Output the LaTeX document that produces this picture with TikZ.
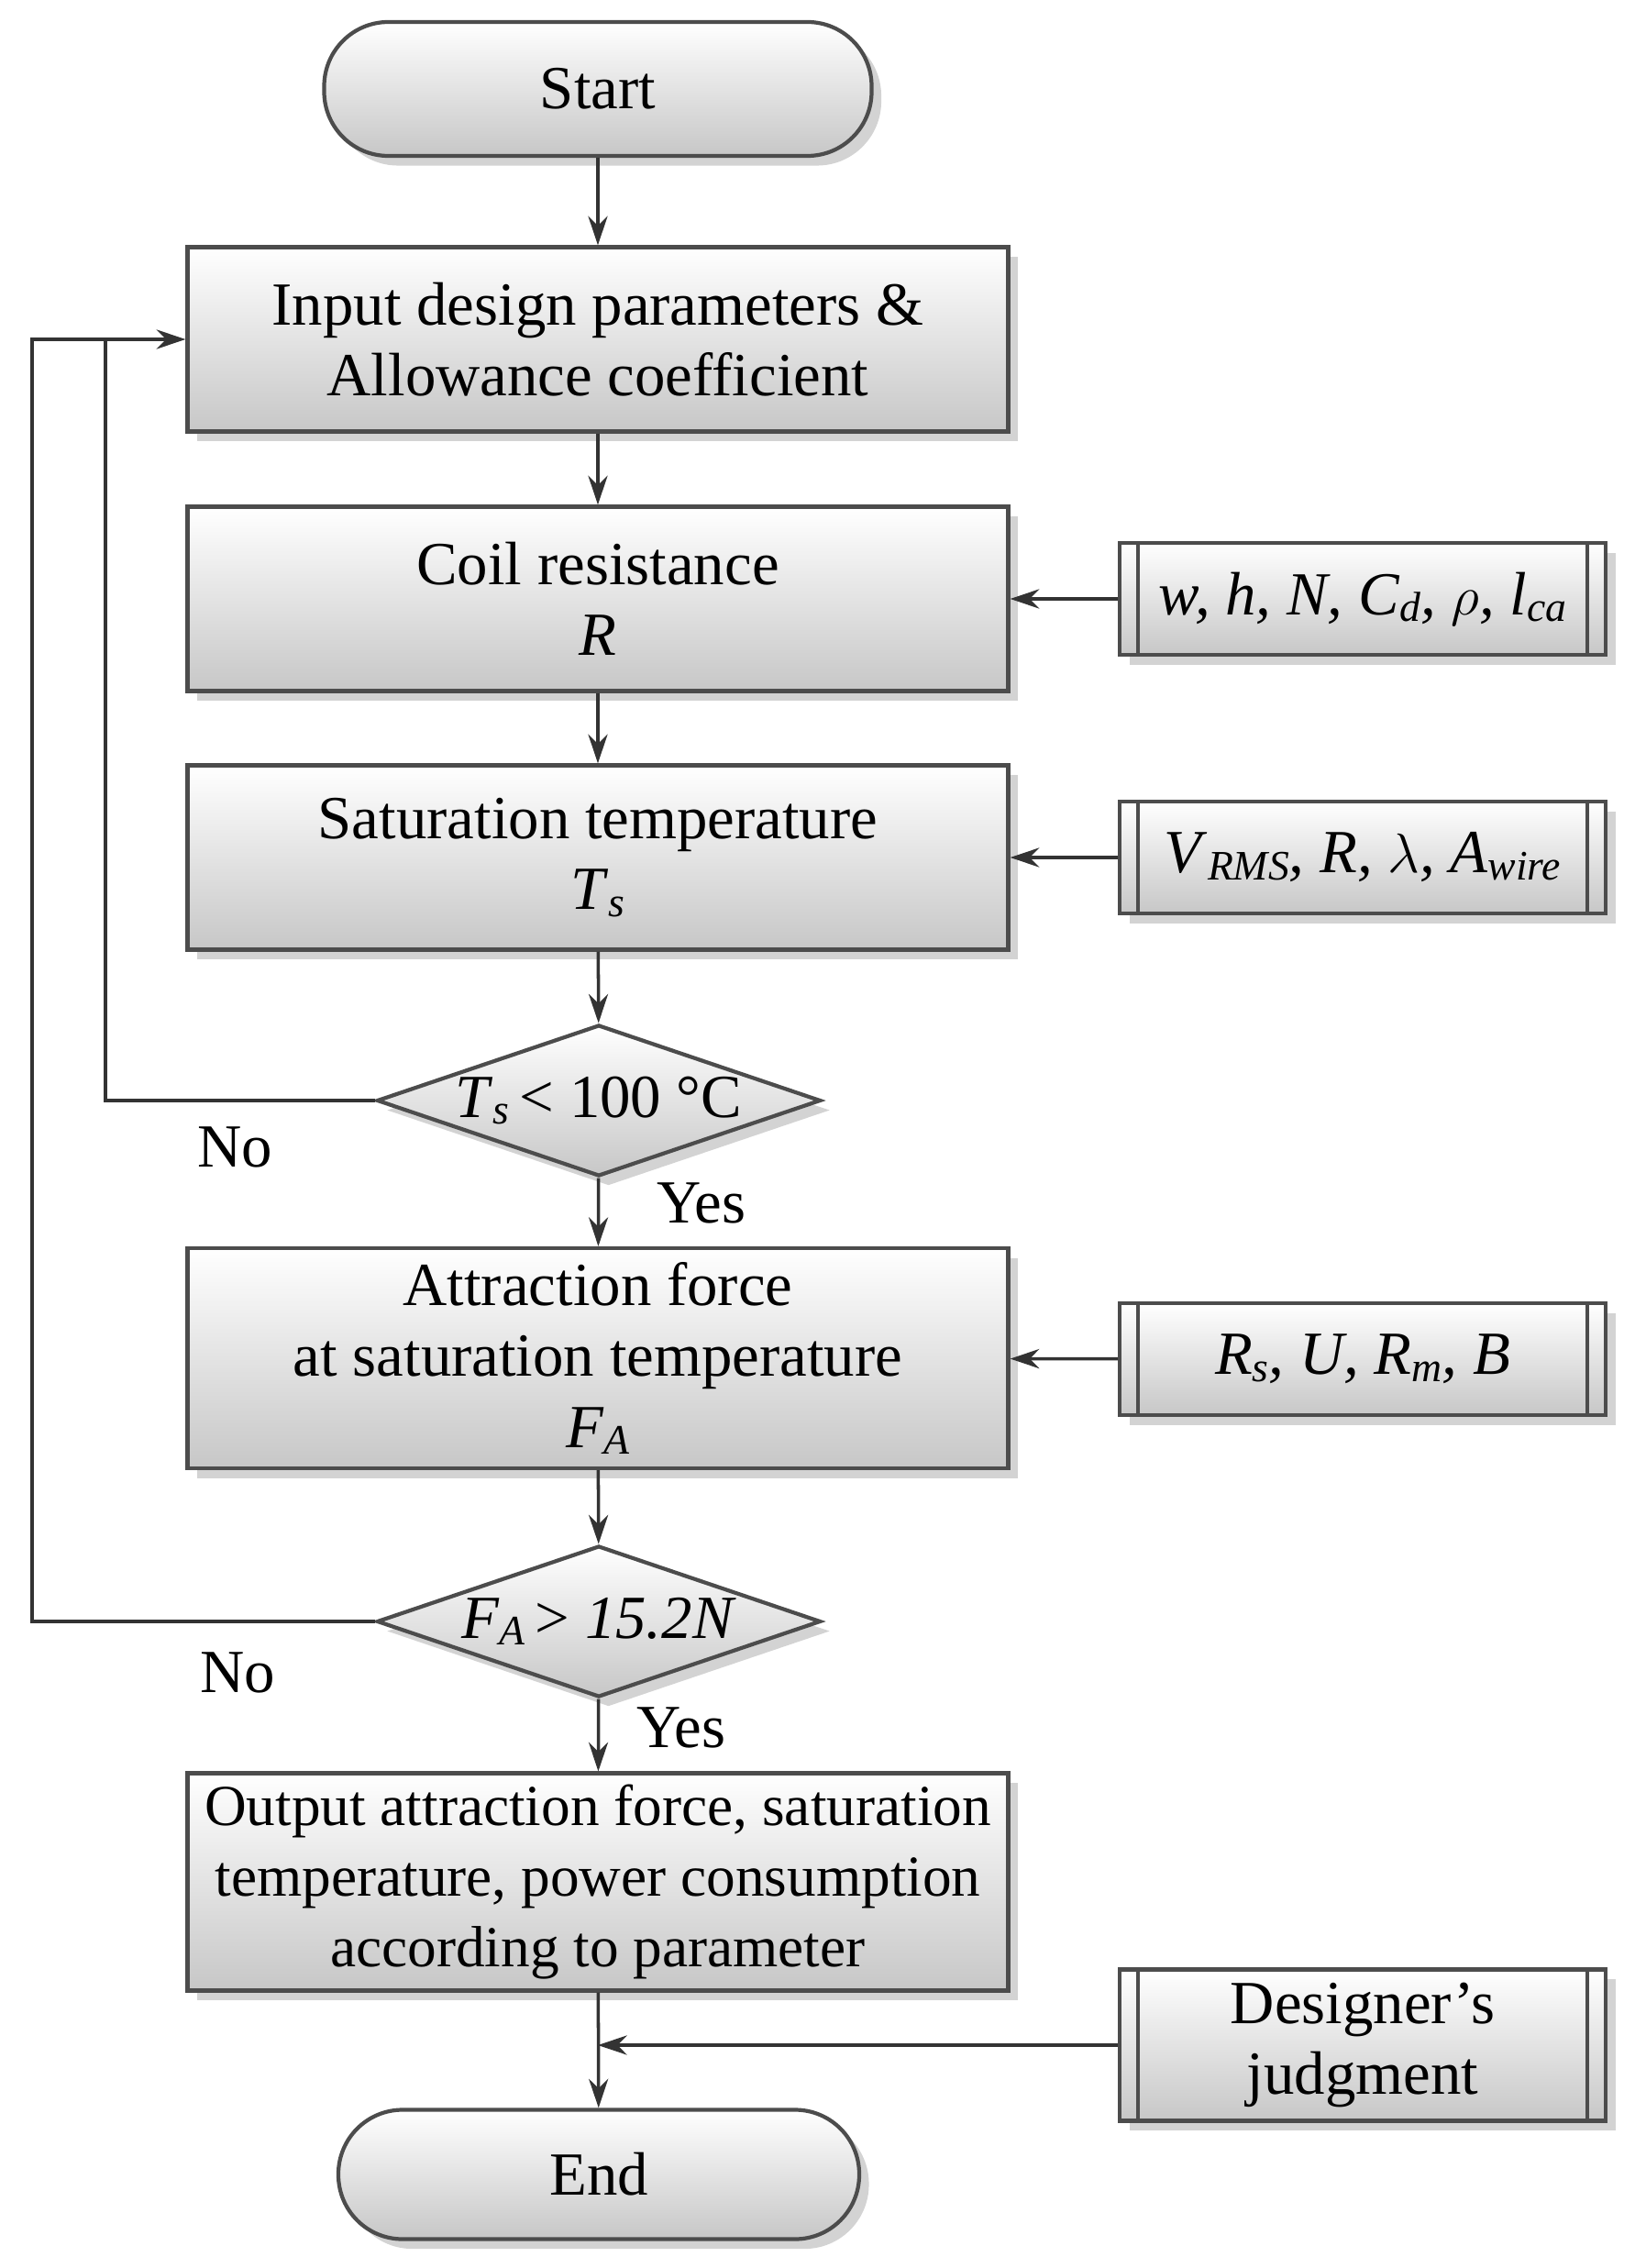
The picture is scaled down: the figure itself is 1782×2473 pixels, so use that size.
\documentclass[tikz,border=0pt]{standalone}
\usetikzlibrary{shapes.geometric,shadows,arrows.meta}
\usepackage{fontspec}
\setmainfont{Liberation Serif}
\newcommand\mysb[1]{\raisebox{-0.25ex}{\fontsize{13}{13}\selectfont\itshape #1}}
\begin{document}
\begin{tikzpicture}[x=0.01cm,y=-0.01cm,
  base/.style={draw=black!70,line width=1.2pt,top color=white,bottom color=black!22,
    drop shadow={shadow xshift=3pt,shadow yshift=-3pt,opacity=0.35},
    font=\fontsize{19}{22}\selectfont,align=center,inner sep=0pt},
  proc/.style={base,rectangle,minimum width=895*0.01cm},
  term/.style={base,rounded corners=70*0.01cm},
  dec/.style={base,diamond,aspect=2.93,minimum width=484*0.01cm,minimum height=165*0.01cm},
  pre/.style={base,rectangle,minimum width=530*0.01cm,minimum height=122*0.01cm},
  arr/.style={-{Stealth[length=9pt,width=6pt]},line width=1pt,black!80},
  lbl/.style={font=\fontsize{19}{22}\selectfont}]
\useasboundingbox (0,0) rectangle (1782,2473);
\node[term,minimum width=597*0.01cm,minimum height=146*0.01cm] (start) at (652,97) {Start};
\node[proc,minimum height=201*0.01cm] (b1) at (652,370) {Input design parameters \&\\Allowance coefficient};
\node[proc,minimum height=201*0.01cm] (b2) at (652,653) {Coil resistance\\\textit{R}};
\node[proc,minimum height=201*0.01cm] (b3) at (652,935) {Saturation temperature\\\textit{T}\mysb{s}};
\node[dec] (d1) at (653,1200) {\textit{T}\mysb{s}\,< 100 °C};
\node[proc,minimum height=240*0.01cm] (b4) at (652,1481) {Attraction force\\at saturation temperature\\\textit{F}\mysb{A}};
\node[dec] (d2) at (653,1768) {\textit{F}\mysb{A}\,> \textit{15.2N}};
\node[proc,minimum height=237*0.01cm,font=\fontsize{18}{22}\selectfont] (b5) at (652,2052) {Output attraction force, saturation\\temperature, power consumption\\according to parameter};
\node[term,minimum width=568*0.01cm,minimum height=141*0.01cm] (end) at (653,2371) {End};
\node[pre] (pa) at (1486,653) {\textit{w, h, N, C}\mysb{d}\textit{, $\rho$, l}\mysb{ca}};
\node[pre] (pb) at (1486,935) {\textit{V}\mysb{RMS}\textit{, R, $\lambda$, A}\mysb{wire}};
\node[pre] (pc) at (1486,1482) {\textit{R}\mysb{s}\textit{, U, R}\mysb{m}\textit{, B}};
\node[pre,minimum height=165*0.01cm] (pd) at (1486,2230) {Designer's\\judgment};
\foreach \n in {pa,pb,pc,pd}{
  \draw[black!70,line width=1.2pt] ([xshift=22*0.01cm]\n.north west) -- ([xshift=22*0.01cm]\n.south west);
  \draw[black!70,line width=1.2pt] ([xshift=-22*0.01cm]\n.north east) -- ([xshift=-22*0.01cm]\n.south east);}
\draw[arr] (start) -- (b1);
\draw[arr] (b1) -- (b2);
\draw[arr] (b2) -- (b3);
\draw[arr] (b3) -- (d1);
\draw[arr] (d1) -- (b4);
\draw[arr] (b4) -- (d2);
\draw[arr] (d2) -- (b5);
\draw[arr] (b5) -- (end);
\coordinate (j1) at (115,370);
\draw[arr] (d1.west) -| (115,370) -- (b1.west);
\draw[line width=1pt,black!80] (d2.west) -| (35,370) -- (j1);
\draw[arr] (pa) -- (b2);
\draw[arr] (pb) -- (b3);
\draw[arr] (pc) -- (b4);
\coordinate (j2) at (652,2230);
\draw[arr] (pd.west) -- (j2);
\node[lbl] (n1) at (256,1251) {No};
\node[lbl] (y1) at (765,1312) {Yes};
\node[lbl] (n2) at (259,1824) {No};
\node[lbl] (y2) at (743,1884) {Yes};
\end{tikzpicture}
\end{document}
